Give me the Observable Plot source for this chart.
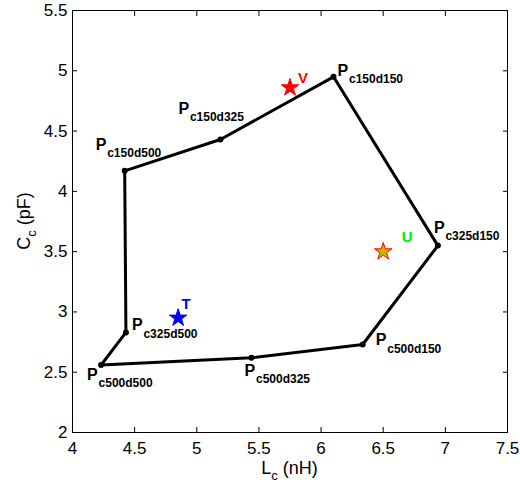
<!DOCTYPE html>
<html><head><meta charset="utf-8">
<script src="https://cdn.jsdelivr.net/npm/d3@7"></script>
<script src="https://cdn.jsdelivr.net/npm/@observablehq/plot@0.6"></script>
<style>body{margin:0;background:#fff} svg{font-family:"Liberation Sans",Arial,Helvetica,sans-serif}</style>
</head><body><div id="chart"></div>
<script>
// Data
const pointNames = ["c150d150","c325d150","c500d150","c500d325","c500d500","c325d500","c150d500","c150d325"];
const Lc = [6.10, 6.94, 6.335, 5.44, 4.23, 4.43, 4.42, 5.19];
const Cc = [4.95, 3.55, 2.73, 2.62, 2.56, 2.83, 4.17, 4.43];
const starNames = ["V","U","T"];
const starLc = [5.75, 6.5, 4.85];
const starCc = [4.86, 3.5, 2.95];
const xTicks = [4,4.5,5,5.5,6,6.5,7,7.5];
const yTicks = [2,2.5,3,3.5,4,4.5,5,5.5];

// Label placement / styles (pixel offsets)
const labelDx = [4, -4, 13, -7, -14, 6, -29, -42];
const labelDy = [-1, -13, 1, 18, 15, -2, -21, -26];
const starFill = ["#ff0000","#c8b400","#0000ff"];
const starStroke = ["#ff0000","#ff0000","#0000ff"];
const starLabelColor = ["#ff0000","#00ee00","#0000ff"];
const starLabelDx = [13, 24, 8];
const starLabelDy = [-9, -14, -14];

const pts = pointNames.map((n,i)=>({name:n, L:Lc[i], C:Cc[i], dx:labelDx[i], dy:labelDy[i]}));
const loop = [...pts, pts[0]];
const stars = starNames.map((n,i)=>({name:n, L:starLc[i], C:starCc[i], fill:starFill[i], stroke:starStroke[i], lc:starLabelColor[i], dx:starLabelDx[i], dy:starLabelDy[i]}));
const fmt = d => String(d);

const marks = [
  Plot.frame({stroke:"black", strokeWidth:1}),
  Plot.axisX(xTicks, {anchor:"bottom", tickSize:-5, tickPadding:14, fontSize:17, label:null, tickFormat:fmt, stroke:"black"}),
  Plot.axisX(xTicks, {anchor:"top", tickSize:-5, text:null, label:null, stroke:"black"}),
  Plot.axisY(yTicks, {anchor:"left", tickSize:-5, tickPadding:10, fontSize:17, label:null, tickFormat:fmt, stroke:"black"}),
  Plot.axisY(yTicks, {anchor:"right", tickSize:-5, text:null, label:null, stroke:"black"}),
  Plot.line(loop, {x:"L", y:"C", stroke:"black", strokeWidth:3}),
  Plot.dot(pts, {x:"L", y:"C", r:3, fill:"black"}),
];
pts.forEach(p=>{
  marks.push(Plot.text([p], {x:"L", y:"C", text:()=>"P", dx:p.dx, dy:p.dy, textAnchor:"start", lineAnchor:"bottom", fontSize:16, fontWeight:"bold", fill:"black"}));
  marks.push(Plot.text([p], {x:"L", y:"C", text:"name", dx:p.dx+11.5, dy:p.dy+7.5, textAnchor:"start", lineAnchor:"bottom", fontSize:12, fontWeight:"bold", fill:"black"}));
});
stars.forEach(s=>{
  marks.push(Plot.dot([s], {x:"L", y:"C", symbol:"star", r:5.5, fill:s.fill, stroke:s.stroke, strokeWidth:1}));
  marks.push(Plot.text([s], {x:"L", y:"C", text:"name", dx:s.dx, dy:s.dy, fontSize:15, fontWeight:"bold", fill:s.lc}));
});

const plot = Plot.plot({
  width:520, height:487,
  marginLeft:72, marginRight:13, marginTop:10, marginBottom:55,
  style:{fontFamily:'"Liberation Sans",Arial,sans-serif', color:"black", background:"white"},
  x:{domain:[4,7.5]}, y:{domain:[2,5.5]},
  marks
});
document.getElementById("chart").appendChild(plot);

// Axis titles with subscripts
const svg = d3.select(plot);
const x0 = 72, x1 = 520-13, y0 = 10, y1 = 487-55;
const xl = svg.append("text").attr("x",(x0+x1)/2).attr("y",474).attr("text-anchor","middle").attr("font-size",18).attr("fill","black");
xl.append("tspan").text("L");
xl.append("tspan").attr("dy",6).attr("font-size",13).text("c");
xl.append("tspan").attr("dy",-6).text(" (nH)");
const cy = (y0+y1)/2;
const yl = svg.append("text").attr("transform",`translate(30,${cy}) rotate(-90)`).attr("text-anchor","middle").attr("font-size",18).attr("fill","black");
yl.append("tspan").text("C");
yl.append("tspan").attr("dy",6).attr("font-size",13).text("c");
yl.append("tspan").attr("dy",-6).text(" (pF)");
</script></body></html>
